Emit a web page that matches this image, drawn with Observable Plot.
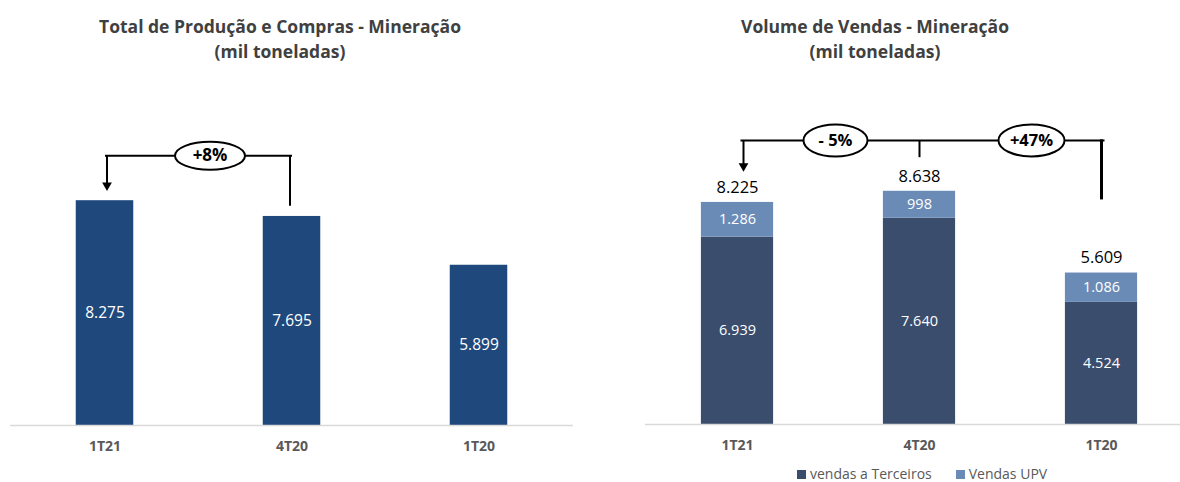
<!DOCTYPE html>
<html>
<head>
<meta charset="utf-8">
<script src="https://cdn.jsdelivr.net/npm/d3@7"></script>
<script src="https://cdn.jsdelivr.net/npm/@observablehq/plot@0.6"></script>
<style>
  html, body { margin: 0; padding: 0; background: #fff; overflow: hidden; }
  #wrap { position: relative; width: 1180px; height: 482px; overflow: hidden; font-family: "Open Sans", sans-serif; }
  .title { position: absolute; top: 14px; transform: translateX(-50%); text-align: center; font-weight: bold; font-size: 17.5px; line-height: 25px; color: #404040; white-space: nowrap; }
  .legend { position: absolute; top: 466px; left: 797px; font-size: 14px; line-height: 16px; color: #595959; white-space: nowrap; display: flex; }
  .legend span.sw { display: inline-block; width: 9px; height: 9px; margin-right: 4px; vertical-align: 0px; }
  .legend .item { margin-right: 24px; }
  svg { position: absolute; top: 70px; }
</style>
</head>
<body>
<div id="wrap"></div>
<script>
// ---- data ----
const categories = ["1T21", "4T20", "1T20"];
const totalProducao = [8275, 7695, 5899];
const vendasTerceiros = [6939, 7640, 4524];
const vendasUPV = [1286, 998, 1086];
const totalVendas = [8225, 8638, 5609];
const seriesNames = ["vendas a Terceiros", "Vendas UPV"];
const seriesColors = ["#3A4D6D", "#6B8BB7"];
const titles = [
  ["Total de Produção e Compras - Mineração", "(mil toneladas)"],
  ["Volume de Vendas - Mineração", "(mil toneladas)"]
];
const variacaoProducao = ["+8%"];
const variacaoVendas = ["- 5%", "+47%"];

const fmt = d3.formatLocale({decimal: ",", thousands: ".", grouping: [3], currency: ["R$", ""]}).format(",d");

const wrap = document.getElementById("wrap");

// titles
[[280, titles[0]], [875, titles[1]]].forEach(([cx, lines]) => {
  const t = document.createElement("div");
  t.className = "title";
  t.style.left = cx + "px";
  t.innerHTML = lines.join("<br>");
  wrap.appendChild(t);
});

// custom ellipse symbol
function ellipseSymbol(rx, ry) {
  const k = 0.5523;
  return {
    draw(ctx) {
      ctx.moveTo(rx, 0);
      ctx.bezierCurveTo(rx, ry * k, rx * k, ry, 0, ry);
      ctx.bezierCurveTo(-rx * k, ry, -rx, ry * k, -rx, 0);
      ctx.bezierCurveTo(-rx, -ry * k, -rx * k, -ry, 0, -ry);
      ctx.bezierCurveTo(rx * k, -ry, rx, -ry * k, rx, 0);
      ctx.closePath();
    }
  };
}

const font = "'Open Sans', sans-serif";
const axisOpts = {tickSize: 0, tickPadding: 16, fontWeight: "bold", fontSize: 14, label: null};

// ---- left chart ----
const prod = categories.map((c, i) => ({cat: c, value: totalProducao[i]}));
const levelL = 9930;
const left = Plot.plot({
  width: 590, height: 400,
  marginLeft: 10, marginRight: 17, marginTop: 29, marginBottom: 45,
  x: {domain: categories, padding: 0},
  y: {domain: [0, 12000], axis: null},
  style: {fontFamily: font, background: "transparent", overflow: "visible", color: "#595959"},
  marks: [
    Plot.barY(prod, {x: "cat", y: "value", fill: "#1F497D", insetLeft: 64.75, insetRight: 64.75}),
    Plot.ruleY([0], {stroke: "#d9d9d9", strokeWidth: 1.5}),
    Plot.axisX(axisOpts),
    Plot.text(prod, {x: "cat", y: d => d.value / 2, text: d => fmt(d.value), fill: "white", fontSize: 15.5}),
    // bracket
    Plot.link([{a: categories[1], b: categories[0]}], {x1: "a", x2: "b", y1: levelL, y2: levelL, stroke: "black", strokeWidth: 2}),
    Plot.link([{a: categories[1]}], {x1: "a", x2: "a", y1: levelL, y2: 8091, stroke: "black", strokeWidth: 2, dx: -2}),
    Plot.link([{a: categories[0]}], {x1: "a", x2: "a", y1: levelL, y2: 8850, stroke: "black", strokeWidth: 2, dx: 2}),
    Plot.dot([{a: categories[0]}], {x: "a", y: 8840, symbol: "triangle", rotate: 180, r: 3.6, fill: "black", stroke: "none", dx: 2}),
    Plot.dot(variacaoProducao, {x: () => categories[0], y: levelL, dx: 105, symbol: ellipseSymbol(35, 14), fill: "white", stroke: "black", strokeWidth: 2}),
    Plot.text(variacaoProducao, {x: () => categories[0], y: levelL, dx: 105, text: d => d, fontWeight: "bold", fontSize: 17, fill: "black"})
  ]
});
left.style.left = "0px";
wrap.appendChild(left);

// ---- right chart ----
const stacked = [];
categories.forEach((c, i) => {
  stacked.push({cat: c, serie: seriesNames[0], value: vendasTerceiros[i], mid: vendasTerceiros[i] / 2});
  stacked.push({cat: c, serie: seriesNames[1], value: vendasUPV[i], mid: vendasTerceiros[i] + vendasUPV[i] / 2});
});
const totals = categories.map((c, i) => ({cat: c, value: totalVendas[i], top: vendasTerceiros[i] + vendasUPV[i]}));
const levelR = 10520;
const right = Plot.plot({
  width: 620, height: 400,
  marginLeft: 55, marginRight: 17, marginTop: 30, marginBottom: 46,
  x: {domain: categories, padding: 0},
  y: {domain: [0, 12000], axis: null},
  color: {domain: seriesNames, range: seriesColors},
  style: {fontFamily: font, background: "transparent", overflow: "visible", color: "#595959"},
  marks: [
    Plot.barY(stacked, {x: "cat", y: "value", fill: "serie", insetLeft: 54.9, insetRight: 54.9}),
    Plot.ruleY([0], {stroke: "#d9d9d9", strokeWidth: 1.5}),
    Plot.axisX(axisOpts),
    Plot.text(stacked, {x: "cat", y: "mid", text: d => fmt(d.value), fill: "white", fontSize: 14.5}),
    Plot.text(totals, {x: "cat", y: "top", text: d => fmt(d.value), fill: "black", fontSize: 16.5, dy: -15}),
    // brackets
    Plot.link([{a: categories[0], b: categories[2]}], {x1: "a", x2: "b", y1: levelR, y2: levelR, stroke: "black", strokeWidth: 2, dx: 3}),
    Plot.link([{a: categories[0]}], {x1: "a", x2: "a", y1: levelR, y2: 9560, stroke: "black", strokeWidth: 2, dx: 6}),
    Plot.dot([{a: categories[0]}], {x: "a", y: 9570, symbol: "triangle", rotate: 180, r: 3.6, fill: "black", stroke: "none", dx: 6}),
    Plot.link([{a: categories[1]}], {x1: "a", x2: "a", y1: levelR, y2: 9900, stroke: "black", strokeWidth: 2}),
    Plot.link([{a: categories[2]}], {x1: "a", x2: "a", y1: levelR + 40, y2: 8336, stroke: "black", strokeWidth: 3}),
    Plot.dot(variacaoVendas, {x: (d, i) => categories[i], y: levelR, symbol: ellipseSymbol(32, 16), fill: "white", stroke: "black", strokeWidth: 2, filter: (d, i) => i === 0, dx: 98}),
    Plot.text(variacaoVendas, {x: (d, i) => categories[i], y: levelR, text: d => d, fontWeight: "bold", fontSize: 16.5, fill: "black", filter: (d, i) => i === 0, dx: 98}),
    Plot.dot(variacaoVendas, {x: (d, i) => categories[i], y: levelR, symbol: ellipseSymbol(33, 16), fill: "white", stroke: "black", strokeWidth: 2, filter: (d, i) => i === 1, dx: 112}),
    Plot.text(variacaoVendas, {x: (d, i) => categories[i], y: levelR, text: d => d, fontWeight: "bold", fontSize: 16.5, fill: "black", filter: (d, i) => i === 1, dx: 112})
  ]
});
right.style.left = "590px";
wrap.appendChild(right);

// legend
const lg = document.createElement("div");
lg.className = "legend";
seriesNames.forEach((s, i) => {
  const it = document.createElement("div");
  it.className = "item";
  it.innerHTML = `<span class="sw" style="background:${seriesColors[i]}"></span>${s}`;
  lg.appendChild(it);
});
wrap.appendChild(lg);
</script>
</body>
</html>
